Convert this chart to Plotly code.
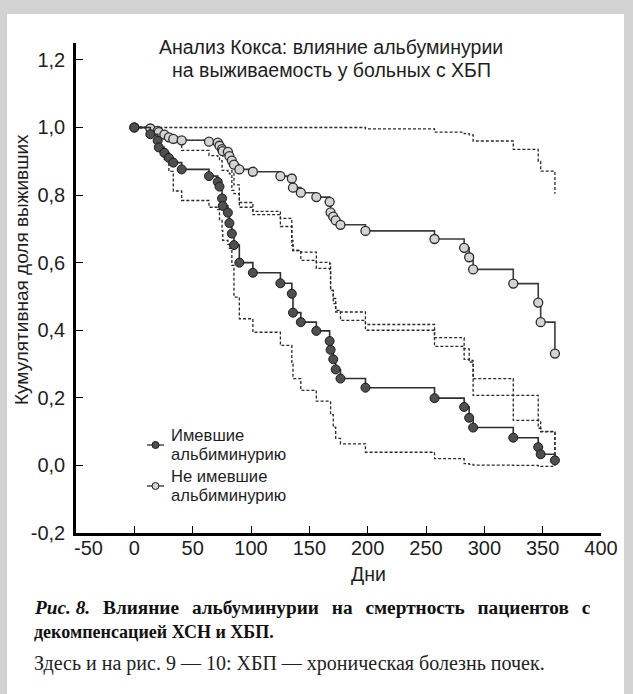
import plotly.graph_objects as go

# ---------------- data ----------------
days = [0, 13.7, 20.0, 21.0, 25.7, 29.6, 33.4, 40.6, 64.0, 71.5, 73.0, 75.2, 75.8,
        80.2, 81.5, 83.6, 85.4, 90.0, 101.6, 125.2, 135.0, 136.0, 142.7, 156.0,
        167.4, 168.2, 170.5, 172.6, 176.7, 198.1, 257.3, 282.7, 287.0, 290.4,
        324.8, 346.2, 348.3, 360.5]

surv_alb = [1.0, 0.980, 0.961, 0.941, 0.925, 0.910, 0.896, 0.876, 0.856, 0.839,
            0.825, 0.790, 0.768, 0.748, 0.717, 0.686, 0.652, 0.600, 0.570, 0.539,
            0.508, 0.452, 0.424, 0.398, 0.368, 0.342, 0.314, 0.284, 0.257, 0.230,
            0.199, 0.173, 0.141, 0.112, 0.082, 0.054, 0.033, 0.015]

surv_no = [1.0, 0.997, 0.990, 0.986, 0.979, 0.971, 0.966, 0.962, 0.958, 0.955,
           0.946, 0.936, 0.930, 0.928, 0.915, 0.902, 0.890, 0.876, 0.869, 0.856,
           0.849, 0.822, 0.807, 0.794, 0.780, 0.749, 0.736, 0.725, 0.712, 0.694,
           0.670, 0.644, 0.616, 0.580, 0.538, 0.482, 0.424, 0.331]

upper_no = [1.0, 1.0, 1.0, 1.0, 1.0, 1.0, 1.0, 1.0, 1.0, 1.0,
            1.0, 1.0, 1.0, 1.0, 1.0, 1.0, 1.0, 1.0, 1.0, 1.0,
            1.0, 1.0, 1.0, 1.0, 1.0, 1.0, 1.0, 1.0, 1.0, 0.996,
            0.986, 0.982, 0.978, 0.960, 0.935, 0.900, 0.871, 0.804]

lower_no = [1.0, 0.995, 0.988, 0.986, 0.982, 0.978, 0.972, 0.962, 0.957, 0.952,
            0.942, 0.927, 0.915, 0.900, 0.885, 0.868, 0.830, 0.778, 0.752, 0.707,
            0.666, 0.636, 0.631, 0.601, 0.596, 0.518, 0.494, 0.459, 0.429, 0.400,
            0.352, 0.314, 0.311, 0.207, 0.207, 0.133, 0.101, 0.025]

upper_alb = [1.0, 0.990, 0.982, 0.980, 0.976, 0.970, 0.955, 0.932, 0.917, 0.910,
             0.902, 0.873, 0.873, 0.868, 0.863, 0.814, 0.804, 0.764, 0.742, 0.731,
             0.651, 0.636, 0.607, 0.583, 0.580, 0.518, 0.479, 0.454, 0.454, 0.417,
             0.378, 0.345, 0.306, 0.257, 0.133, 0.110, 0.099, 0.025]

lower_alb = [1.0, 0.976, 0.945, 0.937, 0.905, 0.870, 0.812, 0.784, 0.764, 0.757,
             0.725, 0.695, 0.666, 0.654, 0.642, 0.592, 0.498, 0.434, 0.394, 0.355,
             0.300, 0.257, 0.222, 0.190, 0.190, 0.150, 0.113, 0.080, 0.064, 0.039,
             0.020, 0.005, 0.003, 0.001, 0.0, -0.003, -0.003, 0.015]

x_ticks = [-50, 0, 50, 100, 150, 200, 250, 300, 350, 400]
x_ticktext = ["-50", "0", "50", "100", "150", "200", "250", "300", "350", "400"]
y_ticks = [-0.2, 0.0, 0.2, 0.4, 0.6, 0.8, 1.0, 1.2]
y_ticktext = ["-0,2", "0,0", "0,2", "0,4", "0,6", "0,8", "1,0", "1,2"]

title_lines = ["Анализ Кокса: влияние альбуминурии", "на выживаемость у больных с ХБП"]
legend_alb = ["Имевшие", "альбиминурию"]
legend_no = ["Не имевшие", "альбиминурию"]

# ---------------- layout geometry ----------------
W, H = 633, 694
ML, MR, MT, MB = 76, 32, 43, 161
PW, PH = W - ML - MR, H - MT - MB

def px(x):
    return (x - ML) / PW

def py(y):
    return (H - MB - y) / PH

SANS = "Liberation Sans Narrow, Arial Narrow, Liberation Sans, Arial, sans-serif"
SERIF = "Liberation Serif, Times New Roman, serif"
INK = "#1e1e1e"

fig = go.Figure()

dash_style = dict(color="#2a2a2a", width=1.3, dash="3px,2px", shape="hv")
for ci in (upper_no, lower_no, upper_alb, lower_alb):
    fig.add_trace(go.Scatter(x=days, y=ci, mode="lines", line=dash_style,
                             hoverinfo="skip", showlegend=False))

fig.add_trace(go.Scatter(
    x=days, y=surv_no, mode="lines+markers",
    line=dict(color="#3a3a3a", width=1.6, shape="hv"),
    marker=dict(size=9, color="#d4d4d4", line=dict(color="#2b2b2b", width=1.3)),
    showlegend=False))

fig.add_trace(go.Scatter(
    x=days, y=surv_alb, mode="lines+markers",
    line=dict(color="#2e2e2e", width=1.6, shape="hv"),
    marker=dict(size=9, color="#4f4f4f", line=dict(color="#1a1a1a", width=1)),
    showlegend=False))

shapes = [
    dict(type="rect", xref="paper", yref="paper", layer="below",
         x0=px(7), x1=px(624), y0=py(14), y1=py(H + 5),
         fillcolor="white", line=dict(width=0)),
]
# legend symbols
for yy, fill in ((445, "#4f4f4f"), (486, "#d4d4d4")):
    shapes.append(dict(type="line", xref="paper", yref="paper",
                       x0=px(147), x1=px(164), y0=py(yy), y1=py(yy),
                       line=dict(color="#2e2e2e", width=1.3)))
    shapes.append(dict(type="circle", xref="paper", yref="paper",
                       x0=px(152), x1=px(159), y0=py(yy + 3.5), y1=py(yy - 3.5),
                       fillcolor=fill, line=dict(color="#1a1a1a", width=1)))

ann = []
def text(t, x, y, size, family=SANS, xanchor="center", angle=0, color=INK, align="center"):
    ann.append(dict(text=t, xref="paper", yref="paper", x=px(x), y=py(y),
                    xanchor=xanchor, yanchor="middle", showarrow=False, align=align,
                    textangle=angle, font=dict(family=family, size=size, color=color)))

def two_lines(lines, size_px):
    return "<br>".join("<span style='font-size:%gpx'>%s</span>" % (size_px, s) for s in lines)

text(title_lines[0], 331, 47, 19.5)
text(title_lines[1], 331, 70, 19.5)
text("Кумулятивная доля выживших", 21, 270, 19, angle=-90)
text("Дни", 368, 574, 19.5)
text(two_lines(legend_alb, 16.6), 169, 445, 14.6, xanchor="left", align="left")
text(two_lines(legend_no, 16.6), 169, 486, 14.6, xanchor="left", align="left")
# the leftmost x label sits just right of the axis corner in the original
text(x_ticktext[0], 88, 548, 20)

gap = " \u2004\u200a"
cap1 = gap.join("Влияние альбуминурии на смертность пациентов с".split(" "))
text("<b><i>Рис.\u00a08.</i>" + gap + cap1 + "</b>", 32, 607, 19.3,
     family=SERIF, xanchor="left", color="#111")
text("<b>декомпенсацией ХСН и ХБП.</b>", 32, 632, 18, family=SERIF, xanchor="left", color="#111")
text("Здесь и на рис. 9 \u2014 10: ХБП \u2014 хроническая болезнь почек.", 32, 664, 20,
     family=SERIF, xanchor="left", color="#222")

fig.update_layout(
    width=W, height=H,
    margin=dict(l=ML, r=MR, t=MT, b=MB, autoexpand=False),
    paper_bgcolor="#d2d2d2", plot_bgcolor="white",
    shapes=shapes, annotations=ann, showlegend=False,
    xaxis=dict(range=[-50, 400], tickvals=x_ticks, ticktext=[""] + x_ticktext[1:],
               showgrid=False, zeroline=False, showline=True, linecolor="black",
               linewidth=2.5, ticks="inside", ticklen=7, tickwidth=1.3, tickcolor="black",
               tickfont=dict(family=SANS, size=20, color=INK), ticklabelstandoff=-5),
    yaxis=dict(range=[-0.2, 1.25], tickvals=y_ticks, ticktext=y_ticktext,
               showgrid=False, zeroline=False, showline=True, linecolor="black",
               linewidth=2.5, ticks="inside", ticklen=7, tickwidth=1.3, tickcolor="black",
               tickfont=dict(family=SANS, size=20, color=INK), ticklabelstandoff=4),
)

fig.write_html("out.html", config={"displayModeBar": False},
               post_script="document.body.style.margin='0';document.body.style.overflow='hidden';")
